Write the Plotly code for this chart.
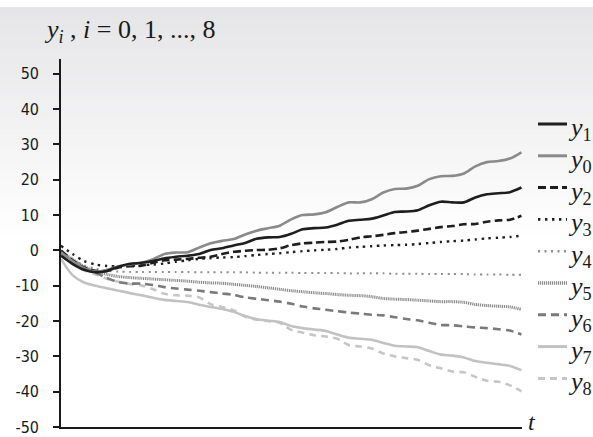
import plotly.graph_objects as go

# ---------------- data ----------------
t = list(range(41))

y0 = [-0.5, -3.0, -5.0, -6.0, -5.5, -4.5, -4.0, -3.5, -2.5, -1.0,
      -0.6, -0.5, 0.8, 2.0, 2.7, 3.2, 4.5, 5.6, 6.3, 7.0,
      8.8, 10.0, 10.2, 10.8, 12.3, 13.6, 13.6, 14.5, 16.4, 17.4,
      17.5, 18.3, 20.2, 21.0, 21.1, 21.8, 23.8, 25.0, 25.3, 26.0, 27.8]
y1 = [-1.5, -3.8, -5.5, -6.2, -5.8, -4.6, -3.8, -3.5, -3.0, -2.2,
      -1.8, -1.5, -1.0, 0.1, 0.6, 1.4, 2.1, 3.3, 3.7, 3.8,
      4.7, 6.0, 6.3, 6.5, 7.3, 8.4, 8.7, 9.0, 9.9, 10.9,
      11.0, 11.4, 12.8, 13.8, 13.6, 13.6, 15.0, 15.9, 16.2, 16.5, 17.8]
y2 = [0.0, -2.8, -4.8, -5.8, -5.8, -4.8, -4.5, -4.3, -3.5, -2.8,
      -2.6, -2.4, -2.1, -1.8, -1.0, -0.4, -0.1, 0.1, 0.2, 0.6,
      1.5, 2.0, 2.2, 2.4, 2.5, 3.0, 3.7, 4.0, 4.4, 4.9,
      5.2, 5.6, 6.1, 6.6, 6.9, 7.4, 7.5, 8.1, 8.5, 8.7, 9.8]
y3 = [1.3, -1.0, -3.0, -4.0, -4.4, -4.5, -4.4, -4.2, -4.0, -3.7,
      -3.2, -2.8, -2.4, -2.2, -2.0, -1.9, -1.6, -1.3, -1.0, -0.8,
      -0.5, -0.2, 0.0, 0.2, 0.4, 0.8, 1.0, 1.2, 1.4, 1.5,
      1.6, 1.8, 2.1, 2.4, 2.6, 2.8, 3.1, 3.4, 3.6, 3.8, 4.2]
y4 = [-1.0, -2.6, -4.2, -5.2, -5.8, -6.0, -6.1, -6.1, -6.1, -6.1,
      -6.1, -6.1, -6.2, -6.2, -6.2, -6.2, -6.2, -6.3, -6.3, -6.3,
      -6.3, -6.4, -6.4, -6.4, -6.4, -6.5, -6.5, -6.5, -6.5, -6.6,
      -6.6, -6.6, -6.7, -6.7, -6.7, -6.7, -6.8, -6.8, -6.8, -6.9, -6.9]
y5 = [-0.5, -2.5, -4.6, -5.9, -6.8, -7.4, -7.7, -7.9, -8.1, -8.3,
      -8.5, -8.7, -9.0, -9.2, -9.3, -9.6, -9.9, -10.2, -10.6, -11.0,
      -11.4, -11.7, -12.0, -12.2, -12.5, -12.7, -12.8, -13.1, -13.6, -13.8,
      -13.9, -14.1, -14.3, -14.5, -14.5, -14.7, -15.3, -15.6, -15.8, -16.0, -16.7]
y6 = [-1.0, -2.8, -4.8, -6.3, -7.8, -9.0, -9.4, -9.4, -9.8, -10.4,
      -10.8, -11.1, -11.4, -11.8, -12.2, -12.6, -13.3, -13.7, -14.1, -14.5,
      -15.1, -15.9, -16.4, -16.8, -17.2, -17.6, -17.9, -18.2, -18.4, -18.9,
      -19.4, -19.8, -20.5, -21.1, -21.2, -21.5, -21.8, -22.0, -22.3, -22.7, -23.8]
y7 = [-2.4, -7.0, -9.1, -10.0, -10.7, -11.4, -12.1, -12.7, -13.4, -14.0,
      -14.3, -14.6, -15.4, -16.0, -16.6, -17.4, -18.6, -19.5, -19.9, -20.3,
      -21.4, -22.0, -22.4, -22.8, -23.8, -24.7, -25.0, -25.3, -26.2, -27.0,
      -27.2, -27.4, -28.5, -29.5, -29.8, -30.3, -31.3, -31.8, -32.2, -32.7, -33.9]
y8 = [-1.5, -3.8, -5.6, -6.8, -8.0, -8.9, -9.5, -9.9, -11.0, -12.3,
      -12.7, -12.8, -13.3, -15.2, -16.0, -17.0, -18.8, -19.6, -20.0, -20.5,
      -22.5, -23.3, -24.0, -24.4, -25.0, -26.8, -27.2, -27.8, -29.2, -30.0,
      -30.5, -31.0, -32.5, -33.4, -34.3, -34.5, -35.8, -36.9, -37.2, -38.2, -39.9]

y_ticks = [-50, -40, -30, -20, -10, 0, 10, 20, 30, 40, 50]
y_tick_text = ["-50", "-40", "-30", "-20", "-10", "0", "10", "20", "30", "40", "50"]
legend_order = ["1", "0", "2", "3", "4", "5", "6", "7", "8"]

# ---------------- layout helpers ----------------
W, H = 593, 437
def fx(p):
    return p / W
def fy(p):
    return 1 - p / H

styles = {
    "0": dict(color="#8a8a8a", width=2.6, dash="solid"),
    "1": dict(color="#1e1e1e", width=2.6, dash="solid"),
    "2": dict(color="#1e1e1e", width=2.6, dash="8px,4px"),
    "3": dict(color="#1e1e1e", width=2.4, dash="2.4px,4.6px"),
    "4": dict(color="#8f8f8f", width=2.0, dash="2px,4.5px"),
    "5": dict(color="#8c8c8c", width=3.0, dash="1.2px,0.8px"),
    "6": dict(color="#7a7a7a", width=2.6, dash="8px,5px"),
    "7": dict(color="#c2c2c2", width=2.6, dash="solid"),
    "8": dict(color="#c6c6c6", width=2.6, dash="7px,5px"),
}
data = {"0": y0, "1": y1, "2": y2, "3": y3, "4": y4,
        "5": y5, "6": y6, "7": y7, "8": y8}

fig = go.Figure()
for k in ["8", "7", "6", "5", "4", "3", "2", "0", "1"]:
    st = styles[k]
    fig.add_trace(go.Scatter(
        x=t, y=data[k], mode="lines", name="y" + k, showlegend=False,
        line=dict(color=st["color"], width=st["width"], dash=st["dash"],
                  shape="spline", smoothing=0.8),
        hoverinfo="skip"))

shapes = []
# background gradient (top light gray -> white)
top_c = (229, 229, 231)
n = 40
g0, g1 = 7, 240
for i in range(n):
    a = g0 + (g1 - g0) * i / n
    b = g0 + (g1 - g0) * (i + 1) / n
    f = (i + 0.5) / n
    c = tuple(int(round(top_c[j] + (255 - top_c[j]) * f)) for j in range(3))
    shapes.append(dict(type="rect", xref="paper", yref="paper",
                       x0=0, x1=1, y0=fy(b + 0.6), y1=fy(a),
                       fillcolor="rgb(%d,%d,%d)" % c, line=dict(width=0),
                       layer="below"))

annotations = []
serif = "Liberation Serif, Times New Roman, serif"
# legend (manual)
leg_y0, leg_dy = 124, 31.8
for i, k in enumerate(legend_order):
    yy = leg_y0 + leg_dy * i
    st = styles[k]
    shapes.append(dict(type="line", xref="paper", yref="paper",
                       x0=fx(538), x1=fx(567), y0=fy(yy), y1=fy(yy),
                       line=dict(color=st["color"], width=st["width"] + 0.4,
                                 dash=st["dash"])))
    annotations.append(dict(
        xref="paper", yref="paper", x=fx(566), y=fy(yy + 5),
        xanchor="left", yanchor="middle", showarrow=False,
        text="<i>y</i><sub>" + k + "</sub>",
        font=dict(family=serif, size=26, color="#1a1a1a")))

# title
annotations.append(dict(
    xref="paper", yref="paper", x=fx(42), y=fy(31),
    xanchor="left", yanchor="middle", showarrow=False,
    text="<i>y</i><sub><i>i</i></sub> , <i>i</i> = 0, 1, ..., 8",
    font=dict(family=serif, size=26, color="#1a1a1a")))
# t axis label
annotations.append(dict(
    xref="paper", yref="paper", x=fx(526), y=0,
    xanchor="left", yanchor="bottom", showarrow=False,
    text="<i>t</i>",
    font=dict(family=serif, size=24, color="#1a1a1a")))

fig.update_layout(
    width=W, height=H,
    margin=dict(l=0, r=0, t=0, b=0, autoexpand=False),
    paper_bgcolor="white", plot_bgcolor="rgba(0,0,0,0)",
    showlegend=False,
    shapes=shapes, annotations=annotations,
    xaxis=dict(domain=[fx(61), fx(522)], range=[0, 40.05],
               showline=True, linecolor="#1a1a1a", linewidth=1.6,
               showgrid=False, zeroline=False, ticks="",
               showticklabels=False, fixedrange=True, automargin=False),
    yaxis=dict(domain=[fy(427), fy(59)], range=[-50, 54.2],
               tickvals=y_ticks, ticktext=y_tick_text,
               ticks="outside", ticklen=6, tickwidth=1.5,
               tickcolor="#1a1a1a",
               showline=True, linecolor="#1a1a1a", linewidth=1.6,
               showgrid=False, zeroline=False, ticklabelstandoff=11,
               ticklabeloverflow="allow", automargin=False,
               tickfont=dict(family="DejaVu Sans Condensed, Liberation Sans Narrow, Arial Narrow, sans-serif",
                             size=16, color="#1a1a1a"),
               fixedrange=True),
)

fig.write_html("out.html", config={"displayModeBar": False},
               post_script="document.body.style.margin='0';")
